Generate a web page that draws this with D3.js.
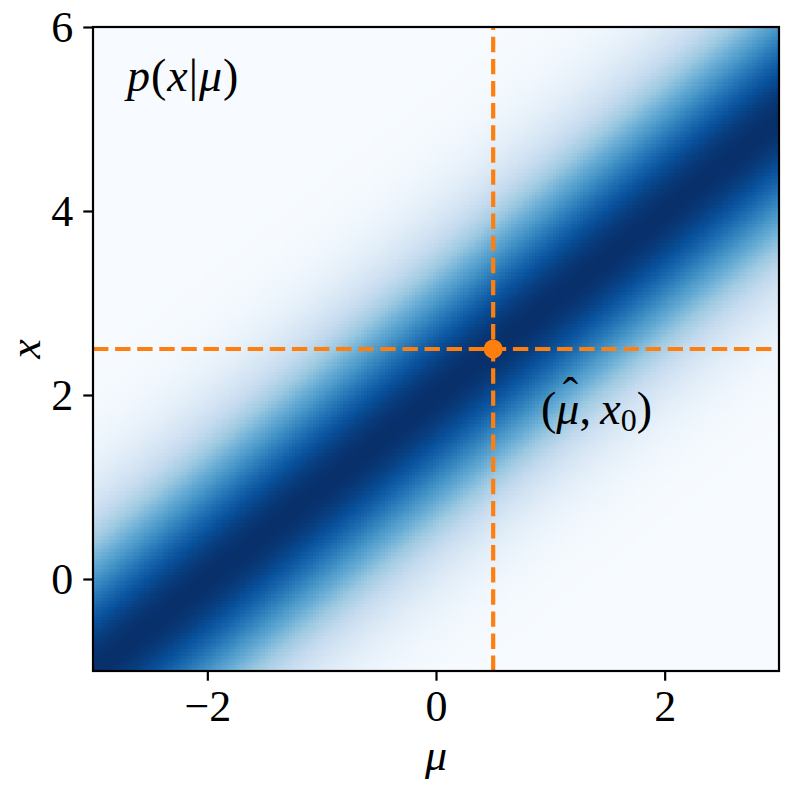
<!DOCTYPE html>
<html>
<head>
<meta charset="utf-8">
<script src="https://cdn.jsdelivr.net/npm/d3@7"></script>
<style>
  html, body { margin: 0; padding: 0; background: #fff; }
  text { font-family: "Liberation Serif", "DejaVu Serif", serif; fill: #000; }
</style>
</head>
<body>
<div id="chart"></div>
<script>
// axis ranges and ticks
const muDomain = [-3, 3];
const xDomain = [-1, 6];
const muTicks = [-2, 0, 2];
const xTicks = [0, 2, 4, 6];

// model p(x|mu): gaussian centred on mu + offset
const modelOffset = 2;
const modelSigma = 1;
const gridSize = 200;

// the marked point (mu-hat, x0)
const muHat = 0.5;
const x0 = 2.5;

// matplotlib "Blues" stops
const blues = ["#f7fbff", "#deebf7", "#c6dbef", "#9ecae1", "#6baed6",
               "#4292c6", "#2171b5", "#08519c", "#08306b"];

const W = 793, H = 795;
const margin = { top: 27, right: 14, bottom: 124, left: 93 };

const svg = d3.select("#chart").append("svg")
  .attr("width", W).attr("height", H);

const x = d3.scaleLinear().domain(muDomain).range([margin.left, W - margin.right]);
const y = d3.scaleLinear().domain(xDomain).range([H - margin.bottom, margin.top]);

// build grid cells
const dMu = (muDomain[1] - muDomain[0]) / gridSize;
const dX = (xDomain[1] - xDomain[0]) / gridSize;
const cells = [];
for (let i = 0; i < gridSize; i++) {
  for (let j = 0; j < gridSize; j++) {
    const mu = muDomain[0] + (i + 0.5) * dMu;
    const xv = xDomain[0] + (j + 0.5) * dX;
    const z = (xv - mu - modelOffset) / modelSigma;
    cells.push({ mu, xv, p: Math.exp(-0.5 * z * z) / (modelSigma * Math.sqrt(2 * Math.PI)) });
  }
}
const pExtent = d3.extent(cells, d => d.p);
const color = d3.scaleLinear()
  .domain(d3.range(blues.length).map(k => pExtent[0] + k * (pExtent[1] - pExtent[0]) / (blues.length - 1)))
  .range(blues)
  .interpolate(d3.interpolateRgb);

svg.append("g")
  .attr("shape-rendering", "crispEdges")
  .selectAll("rect")
  .data(cells)
  .join("rect")
    .attr("x", d => x(d.mu - dMu / 2))
    .attr("y", d => y(d.xv + dX / 2))
    .attr("width", x(dMu) - x(0) + 0.6)
    .attr("height", y(0) - y(dX) + 0.6)
    .attr("fill", d => color(d.p));

// dashed guide lines
const orange = "#ff7f0e";
svg.append("line")
  .attr("x1", x(muHat)).attr("x2", x(muHat))
  .attr("y1", y(xDomain[0])).attr("y2", y(xDomain[1]))
  .attr("stroke", orange).attr("stroke-width", 4.2)
  .attr("stroke-dasharray", "15.4,6.7");
svg.append("line")
  .attr("x1", x(muDomain[0])).attr("x2", x(muDomain[1]))
  .attr("y1", y(x0)).attr("y2", y(x0))
  .attr("stroke", orange).attr("stroke-width", 4.2)
  .attr("stroke-dasharray", "15.4,6.7");
svg.append("circle")
  .attr("cx", x(muHat)).attr("cy", y(x0)).attr("r", 9.5)
  .attr("fill", orange);

// frame
svg.append("rect")
  .attr("x", x(muDomain[0])).attr("y", y(xDomain[1]))
  .attr("width", x(muDomain[1]) - x(muDomain[0]))
  .attr("height", y(xDomain[0]) - y(xDomain[1]))
  .attr("fill", "none").attr("stroke", "#000").attr("stroke-width", 2.2);

// axes
const fontSize = 44;
const fmt = d => d < 0 ? "\u2212" + Math.abs(d) : String(d);
const gx = svg.append("g")
  .attr("transform", `translate(0,${y(xDomain[0])})`)
  .call(d3.axisBottom(x).tickValues(muTicks).tickSize(9.7).tickPadding(10).tickFormat(fmt));
const gy = svg.append("g")
  .attr("transform", `translate(${x(muDomain[0])},0)`)
  .call(d3.axisLeft(y).tickValues(xTicks).tickSize(9.7).tickPadding(10).tickFormat(fmt));
[gx, gy].forEach(g => {
  g.select(".domain").remove();
  g.selectAll(".tick line").attr("stroke", "#000").attr("stroke-width", 2.2);
  g.selectAll(".tick text")
    .style("font-family", '"Liberation Serif", serif')
    .style("font-size", fontSize + "px");
});
gx.selectAll(".tick text").attr("dy", "0.68em");
gy.selectAll(".tick text").attr("dy", "0.33em");

// axis labels
svg.append("text")
  .attr("x", x(0)).attr("y", 770)
  .attr("text-anchor", "middle")
  .style("font-style", "italic").style("font-size", fontSize + "px")
  .text("μ");
svg.append("text")
  .attr("transform", `translate(40,${(y(xDomain[0]) + y(xDomain[1])) / 2}) rotate(-90)`)
  .attr("text-anchor", "middle")
  .style("font-style", "italic").style("font-size", fontSize + "px")
  .text("x");

// annotations
const ann1 = svg.append("text")
  .attr("x", 127).attr("y", 91)
  .style("font-size", "46px")
  .style("letter-spacing", "1px");
ann1.append("tspan").style("font-style", "italic").text("p");
ann1.append("tspan").text("(");
ann1.append("tspan").style("font-style", "italic").text("x");
ann1.append("tspan").text("|");
ann1.append("tspan").style("font-style", "italic").text("μ");
ann1.append("tspan").text(")");

// (mu-hat, x0), the hat is set back over the mu inside the same text
const ann2 = svg.append("text")
  .attr("x", 541).attr("y", 424)
  .style("font-size", "46px");
ann2.append("tspan").text("(");
ann2.append("tspan").style("font-style", "italic").text("μ");
ann2.append("tspan").attr("dx", "-0.36em").attr("dy", "-0.3em").text("\u02c6");
ann2.append("tspan").attr("dx", "0.03em").attr("dy", "0.3em").text(",\u2009");
ann2.append("tspan").style("font-style", "italic").text("x");
ann2.append("tspan").attr("dy", 7).style("font-size", "32px").text("0");
ann2.append("tspan").attr("dy", -7).text(")");
</script>
</body>
</html>
